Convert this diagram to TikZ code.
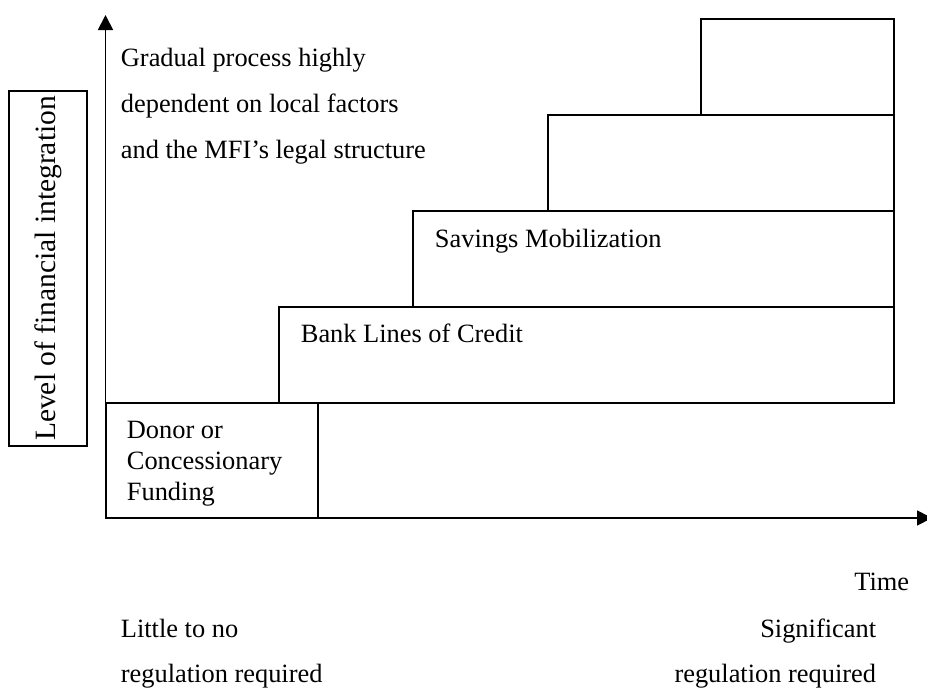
\documentclass[tikz,border=0pt]{standalone}
\usepackage{fontspec}
\setmainfont{Liberation Serif}
\usetikzlibrary{arrows.meta}
\begin{document}
\begin{tikzpicture}[x=1pt,y=-1pt,
  line width=1.8pt,
  txt/.style={inner sep=0pt,anchor=base west,font=\fontsize{26.4}{31}\selectfont},
  txtr/.style={inner sep=0pt,anchor=base east,font=\fontsize{26.4}{31}\selectfont},
  stepbox/.style={draw,line width=1.8pt,inner sep=0pt},
  axisarrow/.style={-{Triangle[length=15pt,width=15pt]}}]
\useasboundingbox (0,0) rectangle (927,689);
% axes
\coordinate (O) at (105.5,518);
\coordinate (ytip) at (105.5,15);
\coordinate (xtip) at (932,518);
\draw[axisarrow] (O) -- (ytip);
\draw[axisarrow] (O) -- (xtip);
% stair boxes
\draw[stepbox] (106,403) rectangle (318,518);
\draw[stepbox] (279,307) rectangle (894,403);
\draw[stepbox] (413,211) rectangle (894,307);
\draw[stepbox] (548,115) rectangle (894,211);
\draw[stepbox] (701,19) rectangle (894,115);
% y label box
\node[draw,line width=1.6pt,minimum width=78pt,minimum height=355pt,inner sep=0pt] (ylab) at (48,268.5) {};
\node[rotate=90,inner sep=0pt,font=\fontsize{29.5}{34}\selectfont] (ylabtxt) at (ylab.center) {Level of financial integration};
% texts
\node[txt] (g1) at (120,66) {Gradual process highly};
\node[txt] (g2) at (120,112) {dependent on local factors};
\node[txt] (g3) at (120,158) {and the MFI’s legal structure};
\node[txt] (sav) at (434,247) {Savings Mobilization};
\node[txt] (bank) at (300,342) {Bank Lines of Credit};
\node[txt] (d1) at (126,438) {Donor or};
\node[txt] (d2) at (126,469) {Concessionary};
\node[txt] (d3) at (126,500) {Funding};
\node[txtr] (time) at (910,590) {Time};
\node[txt] (l1) at (120,637) {Little to no};
\node[txt] (l2) at (120,682) {regulation required};
\node[txtr] (s1) at (877,637) {Significant};
\node[txtr] (s2) at (877,682) {regulation required};
\end{tikzpicture}
\end{document}
